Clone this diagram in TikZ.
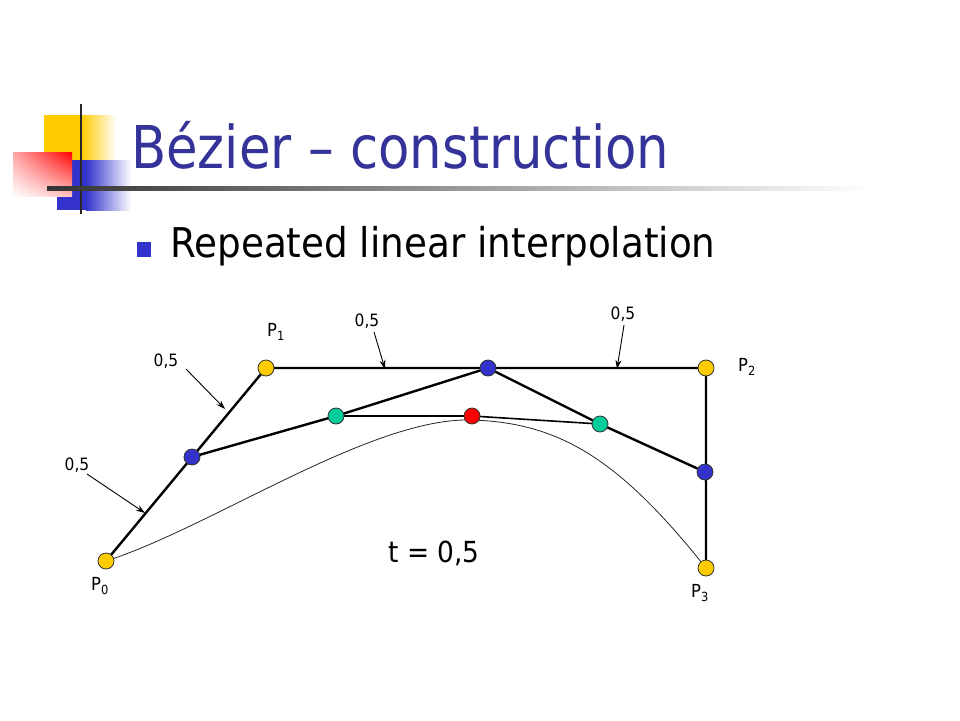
\documentclass[tikz,border=0pt]{standalone}
\usepackage{fontspec}
\setmainfont{DejaVu Sans}[FakeStretch=0.91]
\newfontfamily\titlefont{DejaVu Sans}[FakeStretch=0.87]
\usetikzlibrary{arrows.meta,shadings}
\definecolor{ptyellow}{HTML}{FFCC00}
\definecolor{ptblue}{HTML}{3333CC}
\definecolor{ptgreen}{HTML}{00CC99}
\definecolor{ptred}{HTML}{FF0000}
\definecolor{titleblue}{HTML}{333399}
\tikzset{
  pt/.style={circle, draw=black!80, line width=0.8pt, minimum size=16pt, inner sep=0pt},
  ctrl/.style={pt, fill=ptyellow},
  lvlone/.style={pt, fill=ptblue},
  lvltwo/.style={pt, fill=ptgreen},
  lvlthree/.style={pt, fill=ptred},
  poly/.style={line width=2.4pt, black},
  thinpoly/.style={line width=1.6pt, black},
  curveline/.style={line width=0.8pt, black!85},
  ptr/.style={line width=0.9pt, -{Stealth[length=9pt,width=6pt]}},
  lbl/.style={font=\fontsize{17}{20}\selectfont, inner sep=0pt},
  plbl/.style={font=\fontsize{18}{21}\selectfont, inner sep=0pt},
}
\begin{document}
\begin{tikzpicture}[x=1pt,y=-1pt]
\useasboundingbox (0,0) rectangle (960,720);
\fill[white] (0,0) rectangle (960,720);
% logo
\fill[ptyellow] (44,115) rectangle (82,160);
\shade[left color=ptyellow, right color=white] (82,115) rectangle (116,160);
\fill[ptblue] (57,160) rectangle (86,210);
\shade[left color=ptblue, right color=white] (86,160) rectangle (131,210);
\shade[upper left=red!35!white, upper right=ptred, lower left=white, lower right=red!25!white] (13,152) rectangle (72,196);
\draw[line width=2.6pt, black!85] (81,104) -- (81,214);
\shade[left color=black!80, right color=white] (47,186) rectangle (870,190);
% title
\node[anchor=base west, inner sep=0pt, text=titleblue, font=\titlefont\fontsize{59}{66}\selectfont] (title) at (131,168) {Bézier – construction};
\fill[ptblue] (137,242) rectangle (151,257);
\node[anchor=base west, inner sep=0pt, font=\fontsize{41}{48}\selectfont] (bullet) at (170,257) {Repeated linear interpolation};
% coordinates
\coordinate (p0) at (106,561);
\coordinate (p1) at (266,368);
\coordinate (p2) at (706,368);
\coordinate (p3) at (706,568);
\coordinate (b1) at (192,457);
\coordinate (b2) at (488,368);
\coordinate (b3) at (705,472);
\coordinate (g1) at (336,416);
\coordinate (g2) at (600,424);
\coordinate (r)  at (472,416);
% curve
\draw[curveline] (p0) .. controls (210,528) and (370,418) .. (470,420)
   .. controls (560,422) and (620,460) .. (p3);
% polygons
\draw[poly] (p0) -- (p1) -- (p2) -- (p3);
\draw[poly] (b1) -- (g1) -- (b2) -- (g2) -- (b3);
\draw[thinpoly] (g1) -- (r) -- (g2);
% points
\node[ctrl] (n0) at (p0) {};
\node[ctrl] (n1) at (p1) {};
\node[ctrl] (n2) at (p2) {};
\node[ctrl] (n3) at (p3) {};
\node[lvlone] (m1) at (b1) {};
\node[lvlone] (m2) at (b2) {};
\node[lvlone] (m3) at (b3) {};
\node[lvltwo] (k1) at (g1) {};
\node[lvltwo] (k2) at (g2) {};
\node[lvlthree] (rr) at (r) {};
% labels
\node[plbl] (l0) at (100,586) {P\textsubscript{0}};
\node[plbl] (l1) at (276,332) {P\textsubscript{1}};
\node[plbl] (l2) at (747,367) {P\textsubscript{2}};
\node[plbl] (l3) at (700,593) {P\textsubscript{3}};
\node[lbl] (a1) at (77,465) {0,5};
\node[lbl] (a2) at (166,361) {0,5};
\node[lbl] (a3) at (367,321) {0,5};
\node[lbl] (a4) at (623,314) {0,5};
\node[inner sep=0pt, font=\fontsize{29}{34}\selectfont] (tval) at (434,553) {t = 0,5};
% pointers
\coordinate (t1) at (87,474);   \coordinate (h1) at (145,513);
\coordinate (t2) at (186,369);  \coordinate (h2) at (225,409);
\coordinate (t3) at (374,332);  \coordinate (h3) at (385,369);
\coordinate (t4) at (624,325);  \coordinate (h4) at (617,369);
\draw[ptr] (t1) -- (h1);
\draw[ptr] (t2) -- (h2);
\draw[ptr] (t3) -- (h3);
\draw[ptr] (t4) -- (h4);
\end{tikzpicture}
\end{document}
